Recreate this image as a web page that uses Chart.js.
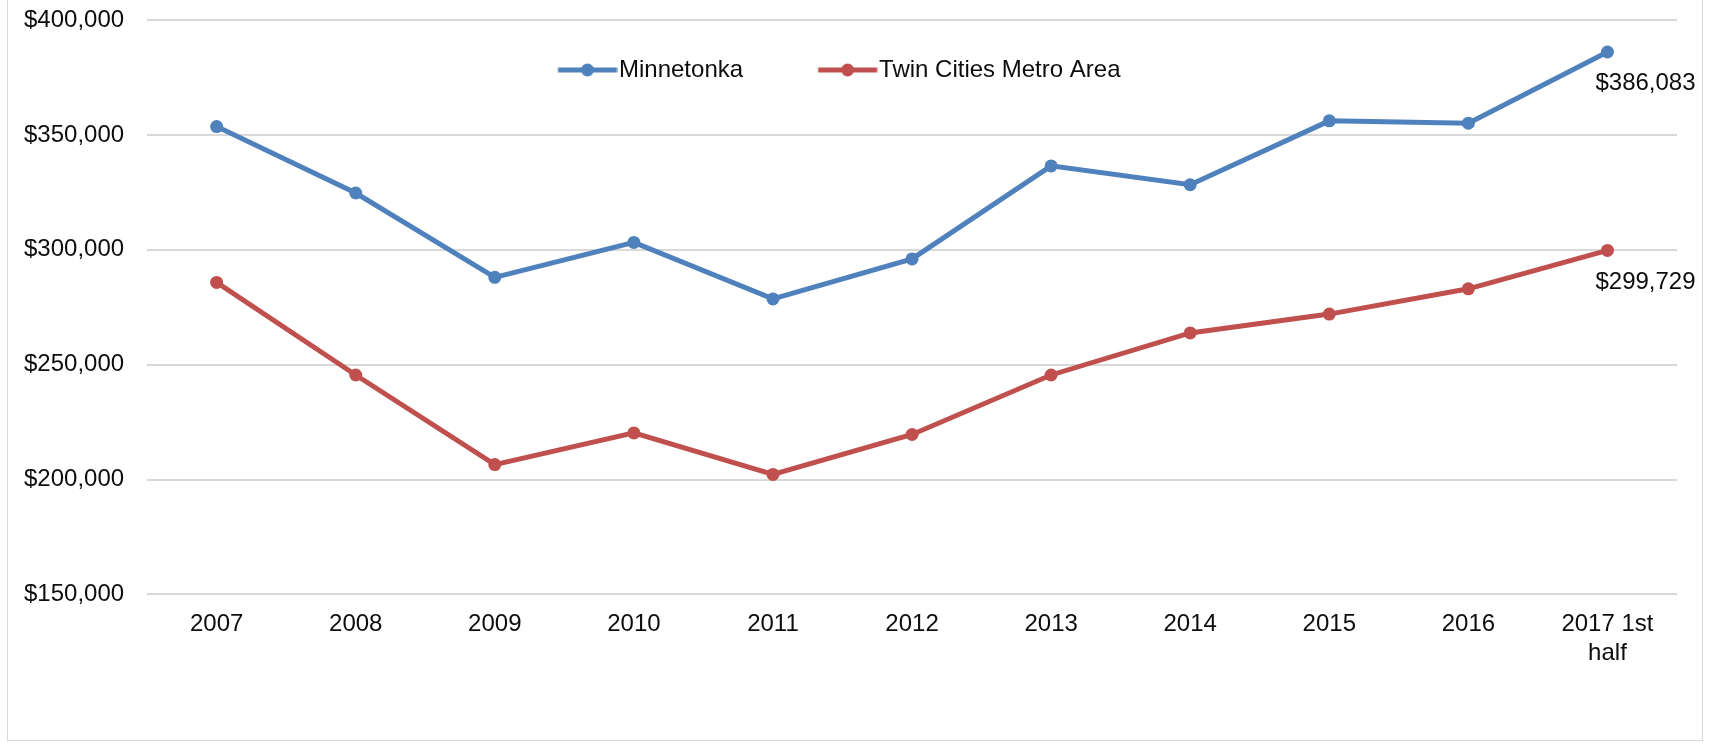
<!DOCTYPE html>
<html>
<head>
<meta charset="utf-8">
<script src="https://cdn.jsdelivr.net/npm/chart.js@4/dist/chart.umd.min.js"></script>
<style>
  html, body { margin: 0; padding: 0; background: #ffffff; overflow: hidden; }
  #frame { position: absolute; left: 7px; top: -4px; width: 1696px; height: 745px; border: 1px solid #d9d9d9; box-sizing: border-box; }
  #c { position: absolute; left: 0; top: 0; }
</style>
</head>
<body>
<div id="frame"></div>
<canvas id="c" width="1711" height="744"></canvas>
<script>
const categories = ["2007", "2008", "2009", "2010", "2011", "2012", "2013", "2014", "2015", "2016", ["2017 1st", "half"]];
const minnetonka = [353600, 324700, 288000, 303200, 278600, 296000, 336500, 328300, 356100, 355100, 386083];
const twinCities = [285800, 245500, 206500, 220300, 202200, 219600, 245500, 263800, 272000, 283000, 299729];
const seriesNames = ["Minnetonka", "Twin Cities Metro Area"];
const yTicks = [150000, 200000, 250000, 300000, 350000, 400000];

const BLUE = "#4F81BD";
const RED = "#C0504D";
const FONT = "'Liberation Sans', Arial, sans-serif";
const TEXT = "#0d0d0d";

function fmt(v) { return "$" + Math.round(v).toLocaleString("en-US"); }

function legendIcon(color) {
  const c = document.createElement("canvas");
  c.width = 70; c.height = 16;
  const g = c.getContext("2d");
  g.strokeStyle = color; g.lineWidth = 5; g.lineCap = "butt";
  g.beginPath(); g.moveTo(10.5, 8); g.lineTo(69.5, 8); g.stroke();
  g.fillStyle = color;
  g.beginPath(); g.arc(40, 8, 6.5, 0, Math.PI * 2); g.fill();
  return c;
}
const icons = [legendIcon(BLUE), legendIcon(RED)];

// place the legend box inside the top of the plot, like the original
const legendPlacer = {
  id: "legendPlacer",
  afterLayout(chart) {
    const lg = chart.legend;
    if (!lg || !lg.lineWidths) return;
    const pad = lg.options.labels.padding;
    const currentX = (lg.left + pad + lg.right - lg.lineWidths[0]) / 2;
    const shift = 558 - currentX;
    lg.left += shift; lg.right += shift;
    lg.top = 58 - pad; lg.bottom = 110;
    lg.height = lg.bottom - lg.top;
  }
};

const endLabels = {
  id: "endLabels",
  afterDatasetsDraw(chart) {
    const ctx = chart.ctx;
    const offsets = [31, 32];
    ctx.save();
    ctx.font = "24px " + FONT;
    ctx.fillStyle = TEXT;
    ctx.textAlign = "left";
    ctx.textBaseline = "middle";
    chart.data.datasets.forEach((ds, i) => {
      const meta = chart.getDatasetMeta(i);
      const last = meta.data[meta.data.length - 1];
      const v = ds.data[ds.data.length - 1];
      ctx.fillText(fmt(v), last.x - 12, last.y + offsets[i]);
    });
    ctx.restore();
  }
};

new Chart(document.getElementById("c"), {
  type: "line",
  data: {
    labels: categories,
    datasets: [
      { label: seriesNames[0], data: minnetonka, borderColor: BLUE, backgroundColor: BLUE,
        borderWidth: 5, pointRadius: 6.5, pointBackgroundColor: BLUE, pointBorderColor: BLUE,
        pointBorderWidth: 0, tension: 0, fill: false },
      { label: seriesNames[1], data: twinCities, borderColor: RED, backgroundColor: RED,
        borderWidth: 5, pointRadius: 6.5, pointBackgroundColor: RED, pointBorderColor: RED,
        pointBorderWidth: 0, tension: 0, fill: false }
    ]
  },
  options: {
    responsive: false,
    animation: false,
    devicePixelRatio: 1,
    layout: { padding: { left: 24, right: 34, top: 0, bottom: 60 } },
    plugins: {
      tooltip: { enabled: false },
      legend: {
        display: true,
        position: "top",
        align: "center",
        maxHeight: 20,
        labels: {
          usePointStyle: true,
          pointStyleWidth: 49,
          padding: 75,
          color: TEXT,
          font: { size: 24, family: FONT },
          generateLabels(chart) {
            const items = Chart.defaults.plugins.legend.labels.generateLabels(chart);
            items.forEach((it, i) => { it.pointStyle = icons[i]; });
            return items;
          }
        }
      }
    },
    scales: {
      x: {
        type: "category",
        offset: true,
        grid: { display: false, drawTicks: false },
        border: { display: false },
        ticks: { color: TEXT, font: { size: 24, family: FONT }, padding: 16, maxRotation: 0, autoSkip: false }
      },
      y: {
        min: 150000,
        max: 400000,
        afterBuildTicks(scale) { scale.ticks = yTicks.map(v => ({ value: v })); },
        grid: { color: "#d9d9d9", lineWidth: 2, drawTicks: true, tickLength: 23, tickColor: "rgba(0,0,0,0)" },
        border: { display: false },
        ticks: { color: TEXT, font: { size: 24, family: FONT }, padding: 0, callback: v => fmt(v) }
      }
    }
  },
  plugins: [legendPlacer, endLabels]
});
</script>
</body>
</html>
